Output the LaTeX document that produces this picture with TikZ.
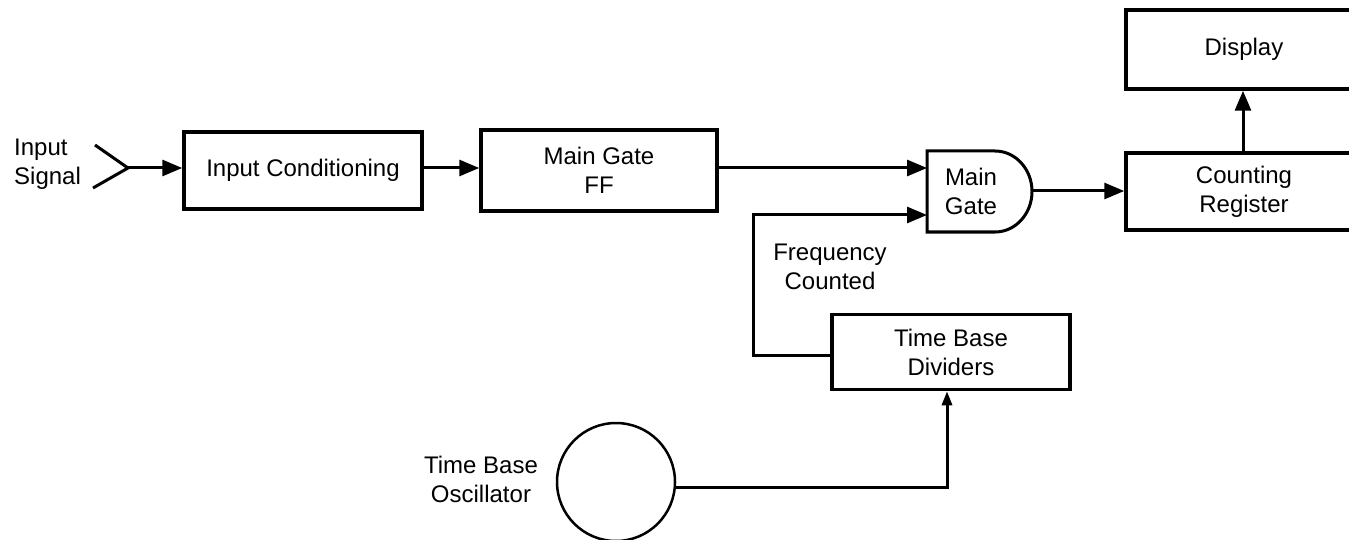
\documentclass[tikz,border=0pt]{standalone}
\usepackage{fontspec}
\setmainfont{Liberation Sans}
\usetikzlibrary{arrows.meta}
\begin{document}
\begin{tikzpicture}[x=1pt,y=-1pt,
  box/.style={draw,line width=3.5pt,inner sep=0pt,align=center,font=\fontsize{24}{29}\selectfont},
  lbl/.style={inner sep=0pt,font=\fontsize{24}{29}\selectfont},
  conn/.style={line width=3pt,-{Triangle[length=20pt,width=16pt]}},
  small/.style={line width=3pt,-{Triangle[length=14pt,width=10pt]}},
  wire/.style={line width=3pt}]
\useasboundingbox (0,0) rectangle (1349,540);
\clip (0,0) rectangle (1349,540);
\fill[white] (0,0) rectangle (1349,540);

% boxes
\node[box,minimum width=238pt,minimum height=77pt] (ic) at (303,170.5) {Input Conditioning};
\node[box,minimum width=236pt,minimum height=81pt] (ff) at (599,170.5) {Main Gate\\FF};
\node[box,minimum width=236pt,minimum height=77pt] (cr) at (1244,191.5) {Counting\\Register};
\node[box,minimum width=236pt,minimum height=79pt] (disp) at (1244,49.5) {Display};
\node[box,minimum width=238pt,minimum height=75pt] (tbd) at (951,352) {Time Base\\Dividers};
\node[draw,circle,line width=2.5pt,minimum size=118pt,inner sep=0pt] (osc) at (616,482) {};

% main gate (AND shape)
\draw[line width=3pt] (927,151) -- (995,151) arc[start angle=-90,end angle=90,x radius=37,y radius=40.5] -- (927,232) -- cycle;
\node[lbl,align=center] (gate) at (971,191.5) {Main\\Gate};
\coordinate (gin1) at (927,168);
\coordinate (gin2) at (927,215);
\coordinate (gout) at (1032,191);

% input signal
\node[lbl,align=left,anchor=west] (insig) at (14,164) {Input\\Signal};
\coordinate (inp) at (128,168);
\coordinate (ch1) at (95,145);
\coordinate (ch2) at (93,188);
\draw[wire] (ch1) -- (inp) -- (ch2);
\draw[conn] (inp) -- (ic.west |- inp);

% labels
\node[lbl,align=center] (freq) at (830,267) {Frequency\\Counted};
\node[lbl,align=center] (osclbl) at (481,479) {Time Base\\Oscillator};

% connectors
\draw[conn] (ic.east |- inp) -- (ff.west |- inp);
\draw[conn] (ff.east |- gin1) -- (gin1);
\draw[conn] (gout) -- (cr.west |- gout);
\draw[conn] (cr.north -| 1243,0) -- (disp.south -| 1243,0);
\coordinate (fb) at (753,355);
\draw[conn] (tbd.west |- fb) -- (fb) |- (gin2);
\coordinate (tap) at (947,487);
\draw[small] ([yshift=-5pt]osc.east) -- (tap) -- (tbd.south -| tap);
\end{tikzpicture}
\end{document}
